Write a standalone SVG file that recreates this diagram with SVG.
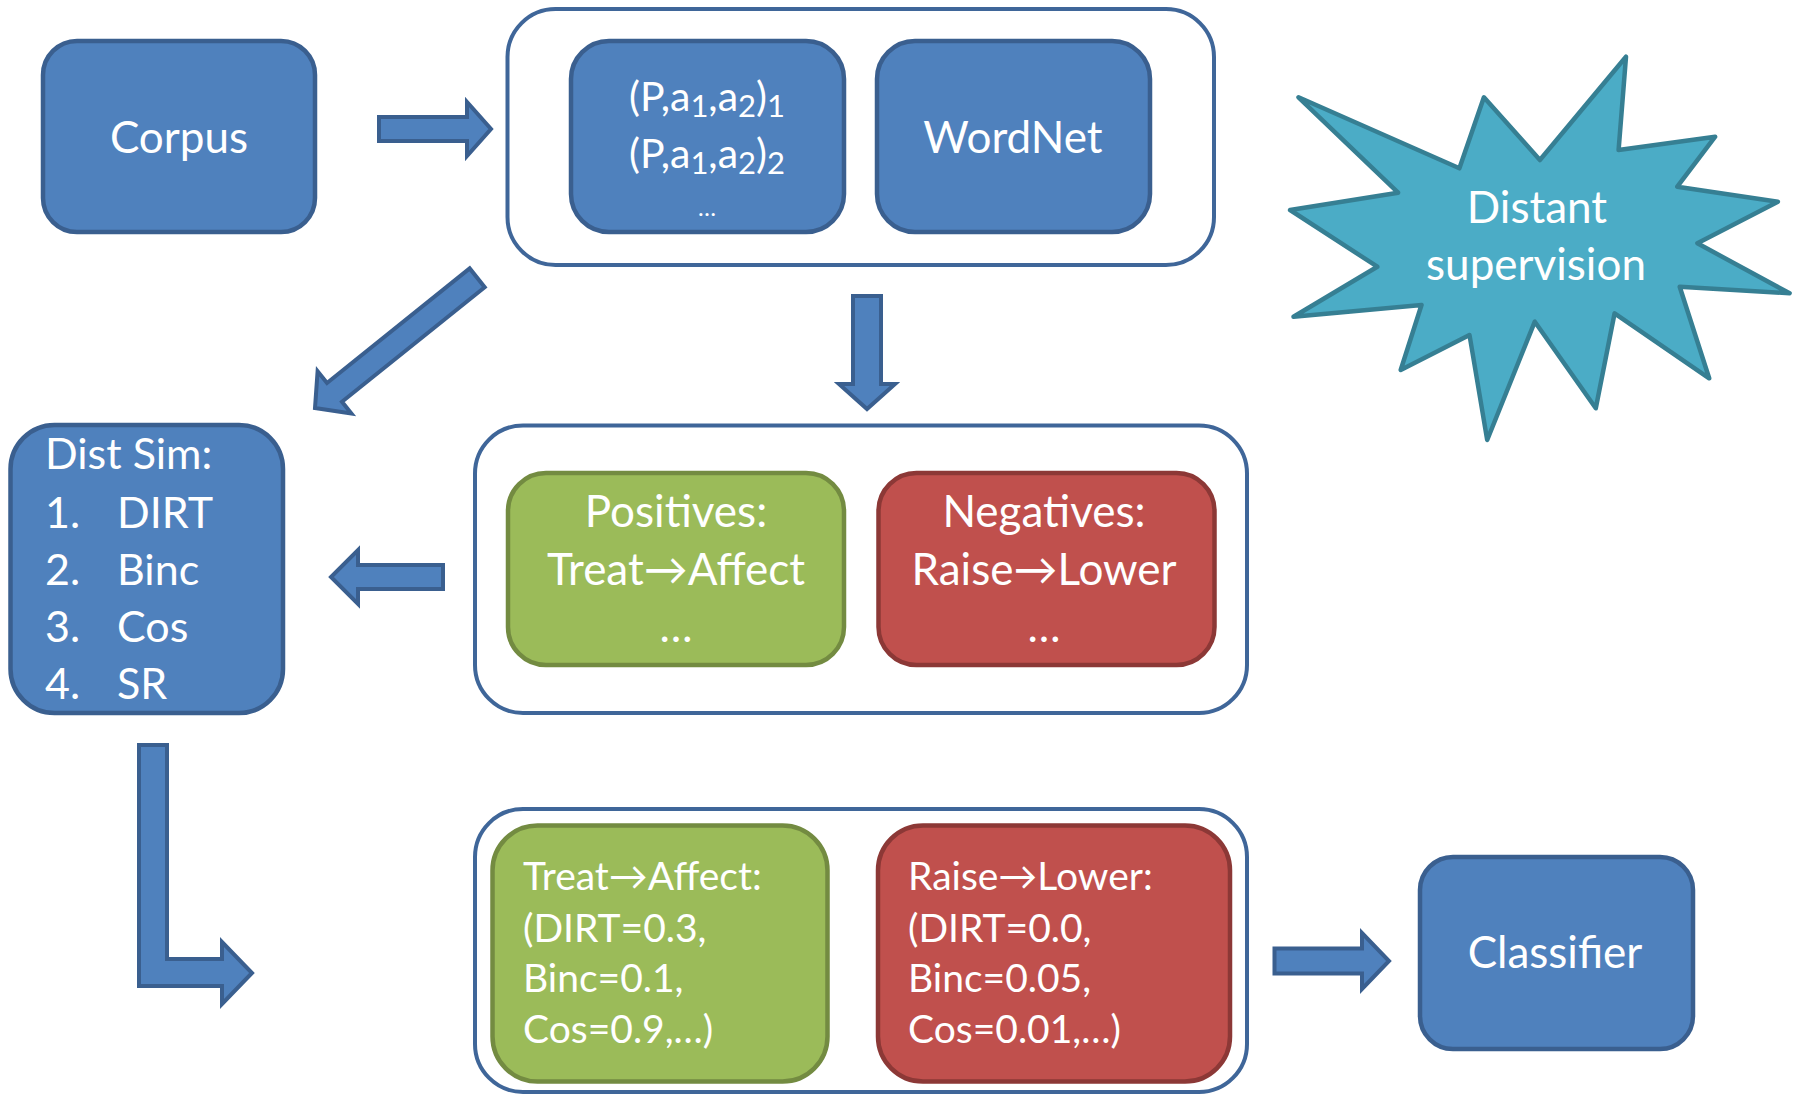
<svg xmlns="http://www.w3.org/2000/svg" width="1793" height="1095" viewBox="0 0 1793 1095">
<style>
.blue{fill:#4f81bd;stroke:#3a5f8f;stroke-width:4.5}
.cont{fill:#fff;stroke:#3f6699;stroke-width:4}
.green{fill:#9bbb59;stroke:#738b41;stroke-width:4.5}
.red{fill:#c0504d;stroke:#8c3836;stroke-width:4.5}
.star{fill:#4bacc6;stroke:#367f93;stroke-width:4.5;stroke-linejoin:round}
.arr{fill:#4f81bd;stroke:#3a5f8f;stroke-width:4;stroke-linejoin:miter}
text{font-family:Lato,"Open Sans","DejaVu Sans",sans-serif;fill:#fff}
.t44{font-size:44px}
.mid{text-anchor:middle}
.t38{font-size:39px}
</style>
<rect width="1793" height="1095" fill="#fff"/>
<g id="connectors">
<polygon class="arr" points="379,117 467,117 467,102 491,129 467,156 467,141 379,141"/>
<polygon class="arr" points="469.7,268.4 327,383 317.6,371.3 315,408 351.4,413.4 342,401.7 484.7,287.2"/>
<polygon class="arr" points="853,296 881,296 881,384 895,384 867,409 839,384 853,384"/>
<polygon class="arr" points="443,565 358,565 358,550 331,577 358,604 358,589 443,589"/>
<polygon class="arr" points="139,745 167,745 167,959 222,959 222,942 252,973 222,1004 222,986 139,986"/>
<polygon class="arr" points="1274.5,948.5 1362,948.5 1362,933 1389,961 1362,989 1362,973.5 1274.5,973.5"/>
</g>
<g id="corpus">
<rect class="blue" x="43" y="41" width="272" height="191" rx="34"/>
<text class="t44 mid" x="179" y="153">Corpus</text>
</g>
<g id="resources">
<rect class="cont" x="507.5" y="9" width="706.5" height="256" rx="48"/>
<g id="tuples">
<rect class="blue" x="571" y="41" width="273" height="191" rx="38"/>
<text class="mid" x="707" y="111" font-size="41">(P,a<tspan font-size="31" dy="6">1</tspan><tspan dy="-6">,a</tspan><tspan font-size="31" dy="6">2</tspan><tspan dy="-6">)</tspan><tspan font-size="31" dy="6">1</tspan></text>
<text class="mid" x="707" y="168" font-size="41">(P,a<tspan font-size="31" dy="6">1</tspan><tspan dy="-6">,a</tspan><tspan font-size="31" dy="6">2</tspan><tspan dy="-6">)</tspan><tspan font-size="31" dy="6">2</tspan></text>
<text class="mid" x="707" y="216" font-size="24">…</text>
</g>
<g id="wordnet">
<rect class="blue" x="877" y="41" width="273" height="191" rx="38"/>
<text class="t44 mid" x="1013" y="153">WordNet</text>
</g>
</g>
<g id="distant-supervision">
<polygon class="star" points="1298.5,97.3 1459.4,168.3 1483.9,97.3 1539.9,160 1626,56.7 1618.6,150 1715.2,136.7 1677.3,186.7 1777.9,201.7 1697.4,243.3 1789.6,293.3 1679.7,286.7 1709.2,378.3 1614.6,313.3 1595.8,408.3 1534.8,321.7 1487.2,440 1469.5,335 1400.7,370 1421.5,305 1293.5,316.7 1377.3,266.7 1290.1,210 1398.1,192.7"/>
<text class="t44 mid" x="1537" y="223">Distant</text>
<text class="t44 mid" x="1536" y="280">supervision</text>
</g>
<g id="distsim">
<rect class="blue" x="10.5" y="425" width="272.5" height="288" rx="44"/>
<g font-size="43">
<text x="45" y="469">Dist Sim:</text>
<text x="45" y="528">1.</text><text x="117" y="528">DIRT</text>
<text x="45" y="585">2.</text><text x="117" y="585">Binc</text>
<text x="45" y="642">3.</text><text x="117" y="642">Cos</text>
<text x="45" y="699">4.</text><text x="117" y="699">SR</text>
</g>
</g>
<g id="examples">
<rect class="cont" x="475" y="425.5" width="772" height="287.5" rx="48"/>
<g id="positives">
<rect class="green" x="508" y="473" width="336" height="192" rx="38"/>
<text class="t44 mid" x="676" y="527">Positives:</text>
<text class="t44 mid" x="676" y="585">Treat→Affect</text>
<text class="t44 mid" x="676" y="642">…</text>
</g>
<g id="negatives">
<rect class="red" x="878.5" y="473" width="336" height="192" rx="38"/>
<text class="t44 mid" x="1044" y="527">Negatives:</text>
<text class="t44 mid" x="1044" y="585">Raise→Lower</text>
<text class="t44 mid" x="1044" y="642">…</text>
</g>
</g>
<g id="features">
<rect class="cont" x="475" y="809" width="772" height="283" rx="48"/>
<g id="pos-features">
<rect class="green" x="492.5" y="825.5" width="335" height="256" rx="45"/>
<text class="t38" x="523" y="890">Treat→Affect:</text>
<text class="t38" x="523" y="942">(DIRT=0.3,</text>
<text class="t38" x="523" y="992">Binc=0.1,</text>
<text class="t38" x="523" y="1043">Cos=0.9,…)</text>
</g>
<g id="neg-features">
<rect class="red" x="878" y="825.5" width="352" height="256" rx="45"/>
<text class="t38" x="908" y="890">Raise→Lower:</text>
<text class="t38" x="908" y="942">(DIRT=0.0,</text>
<text class="t38" x="908" y="992">Binc=0.05,</text>
<text class="t38" x="908" y="1043">Cos=0.01,…)</text>
</g>
</g>
<g id="classifier">
<rect class="blue" x="1420" y="857" width="273" height="192" rx="33"/>
<text class="t44 mid" x="1555" y="968">Classifier</text>
</g>
</svg>
